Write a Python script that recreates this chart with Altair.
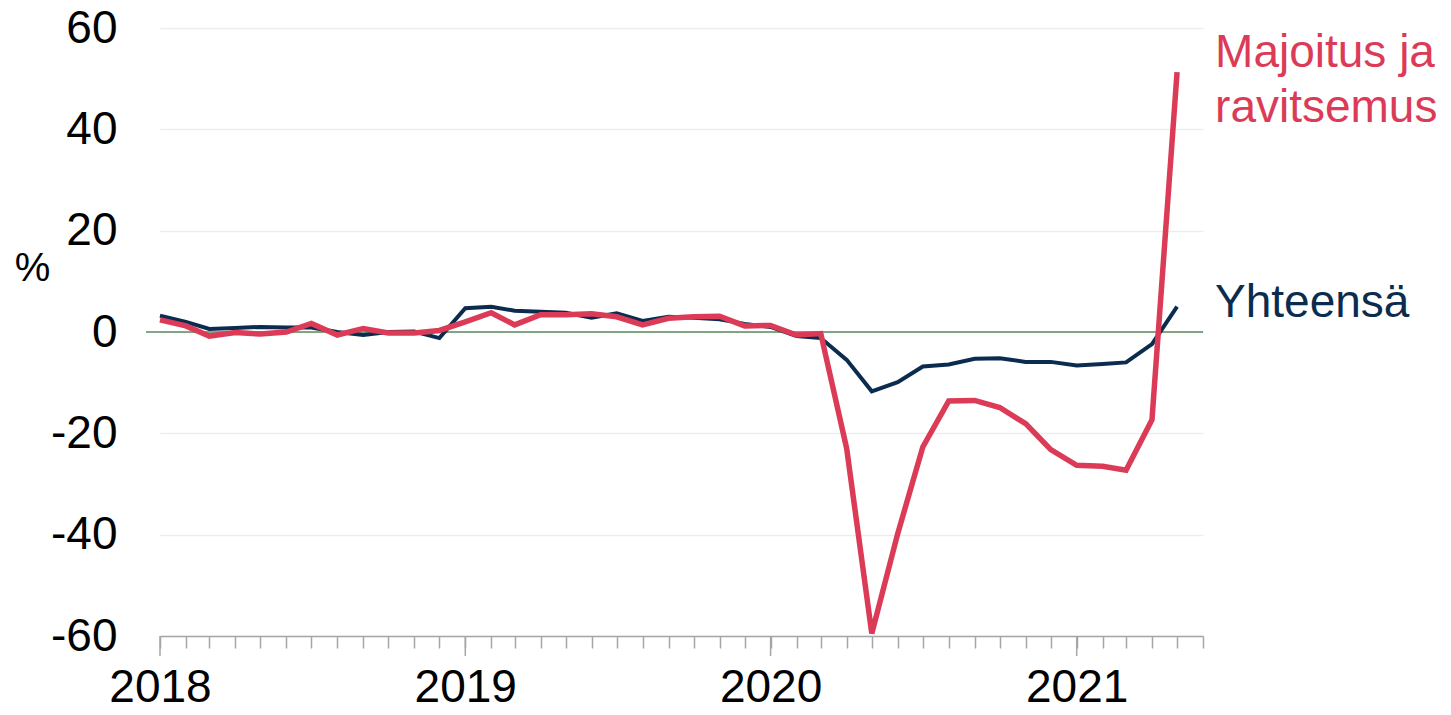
import altair as alt
import pandas as pd

# ---- data ----
months = [d.strftime("%Y-%m-%d") for d in pd.date_range("2018-01-01", "2021-05-01", freq="MS")]
series_names = ["Yhteensä", "Majoitus ja ravitsemus"]
yhteensa = [3.2, 2.0, 0.6, 0.8, 1.0, 0.9, 0.9, 0.0, -0.6, 0.0, 0.1, -1.2,
            4.7, 5.0, 4.2, 4.0, 3.8, 2.8, 3.7, 2.2, 3.0, 2.8, 2.5, 1.6,
            1.0, -0.8, -1.2, -5.5, -11.7, -9.9, -6.8, -6.4, -5.3, -5.2, -5.9, -5.9,
            -6.6, -6.3, -6.0, -2.4, 5.0]
majoitus = [2.4, 1.2, -0.8, -0.1, -0.4, 0.0, 1.7, -0.6, 0.7, -0.2, -0.2, 0.3,
            2.0, 3.8, 1.4, 3.4, 3.4, 3.6, 3.0, 1.4, 2.7, 3.0, 3.1, 1.2,
            1.3, -0.6, -0.3, -23.0, -59.5, -39.8, -22.7, -13.6, -13.5, -14.9, -18.1, -23.2,
            -26.3, -26.5, -27.3, -17.3, 51.3]
y_ticks = [-60, -40, -20, 0, 20, 40, 60]
year_starts = ["2018-01-01", "2019-01-01", "2020-01-01", "2021-01-01"]
red_label = ["Majoitus ja", "ravitsemus"]

NAVY = "#0B2C4F"
RED = "#DB3B56"
TICK = "#A6A6A6"
FONT = "Liberation Sans"
W, H = 1043, 608

df = pd.DataFrame({
    "date": months * 2,
    "value": yhteensa + majoitus,
    "series": [series_names[0]] * len(months) + [series_names[1]] * len(months),
})
last = pd.DataFrame({
    "date": [months[-1], months[-1]],
    "value": [yhteensa[-1], majoitus[-1]],
    "series": series_names,
})
years_df = pd.DataFrame({"date": year_starts})

tick_ms = [int(t.value // 10**6) for t in pd.date_range("2018-01-01", "2021-06-01", freq="MS")]

x_scale = alt.Scale(type="utc", domain=[alt.DateTime(year=2018, month=1, date=1, utc=True),
                                        alt.DateTime(year=2021, month=6, date=1, utc=True)])
x_enc = alt.X(
    "date:T",
    scale=x_scale,
    axis=alt.Axis(
        values=tick_ms, tickCount=100,
        labelExpr="utcmonth(datum.value) == 0 ? utcFormat(datum.value, '%Y') : ''",
        tickSize=12, tickColor=TICK, tickWidth=1.5,
        domainColor=TICK, domainWidth=1.5,
        grid=False, title=None,
        labelFont=FONT, labelFontSize=46, labelColor="#000000",
        labelPadding=17, labelBaseline="top", labelAlign="center",
        labelOverlap=False, labelFlush=False,
    ),
)
y_scale = alt.Scale(domain=[-60, 60], nice=False, zero=False)
y_enc = alt.Y(
    "value:Q", scale=y_scale,
    axis=alt.Axis(
        values=y_ticks, domain=False, ticks=False, grid=True,
        gridColor="#EDEDED", gridWidth=1.5,
        labelExpr="'' + datum.value",
        labelFont=FONT, labelFontSize=46, labelColor="#000000", labelPadding=43,
        title="%", titleAngle=0, titleFont=FONT, titleFontSize=40, titleFontWeight="normal",
        titleColor="#000000", titleX=-128, titleY=240, titleAlign="center", titleBaseline="middle",
    ),
)

zero_rule = alt.Chart(pd.DataFrame({"v": [0]})).mark_rule(color="#5E8A5E", strokeWidth=1.5).encode(
    y=alt.Y("v:Q", scale=y_scale), x=alt.value(-14), x2=alt.value(W)
)

year_ticks = alt.Chart(years_df).mark_rule(color=TICK, strokeWidth=1.5).encode(
    x=alt.X("date:T"), y=alt.value(H), y2=alt.value(H + 20)
)

navy_line = alt.Chart(df).transform_filter(alt.datum.series == series_names[0]).mark_line(
    strokeWidth=4, color=NAVY, strokeJoin="miter"
).encode(x=x_enc, y=y_enc)

red_line = alt.Chart(df).transform_filter(alt.datum.series == series_names[1]).mark_line(
    strokeWidth=5.5, color=RED, strokeJoin="miter"
).encode(x=alt.X("date:T"), y=alt.Y("value:Q"))

navy_text = alt.Chart(last).transform_filter(alt.datum.series == series_names[0]).mark_text(
    text=series_names[0], align="left", baseline="alphabetic", dx=38, dy=10,
    font=FONT, fontSize=46, color=NAVY
).encode(x=alt.X("date:T"), y=alt.Y("value:Q"))

red_text = alt.Chart(last).transform_filter(alt.datum.series == series_names[1]).mark_text(
    text=red_label, align="left", baseline="alphabetic", dx=38, dy=-5, lineHeight=55,
    font=FONT, fontSize=46, color=RED
).encode(x=alt.X("date:T"), y=alt.Y("value:Q"))

chart = alt.layer(zero_rule, year_ticks, navy_line, red_line, navy_text, red_text).properties(
    width=W, height=H,
    autosize=alt.AutoSizeParams(type="none"),
    padding={"left": 152, "top": 20, "right": 240, "bottom": 71},
    background="white",
).configure_view(stroke=None)

chart.save("out.html", embed_options={"renderer": "svg", "actions": False})
